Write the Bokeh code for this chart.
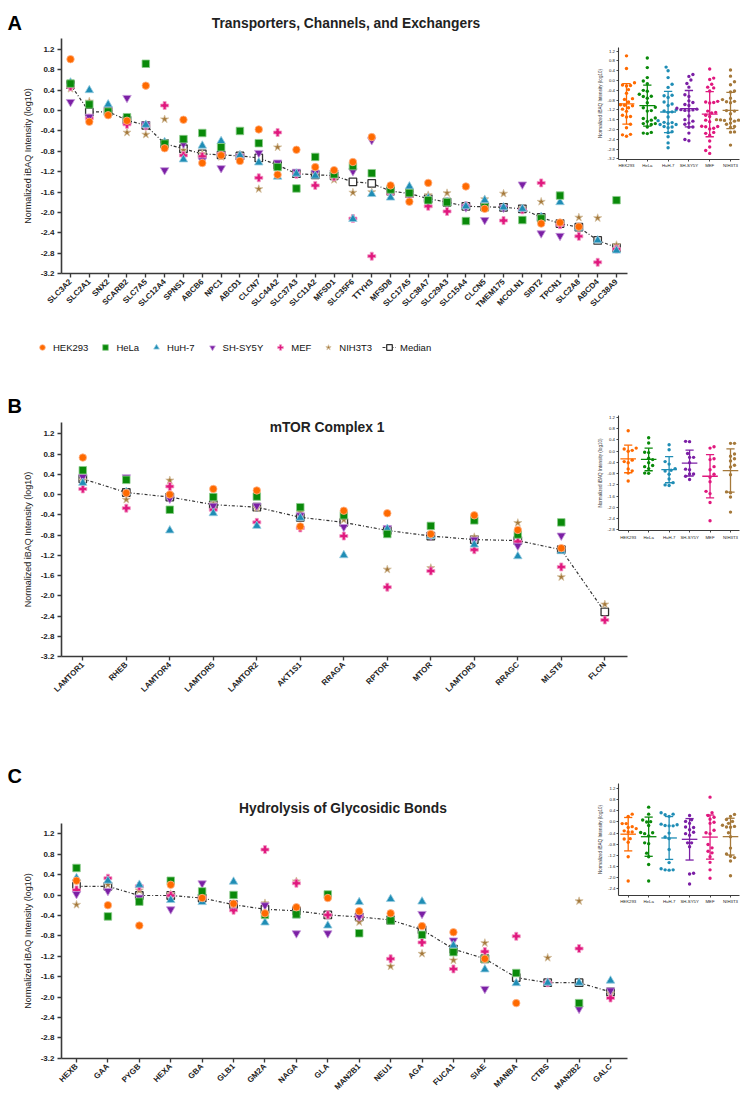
import numpy as np
from bokeh.plotting import figure
from bokeh.models import (Range1d, LinearAxis, FixedTicker, PrintfTickFormatter,
                          Label, Legend, LegendItem, ColumnDataSource)
from bokeh.layouts import column
from bokeh.embed import file_html
from bokeh.resources import INLINE

N = None

cell_lines = ["HEK293", "HeLa", "HuH-7", "SH-SY5Y", "MEF", "NIH3T3"]
main_y_ticks = [1.2, 0.8, 0.4, 0.0, -0.4, -0.8, -1.2, -1.6, -2.0, -2.4, -2.8, -3.2]
inset_ticks_A = [1.2, 0.8, 0.4, 0.0, -0.4, -0.8, -1.2, -1.6, -2.0, -2.4, -2.8, -3.2]
inset_ticks_B = [1.2, 0.8, 0.4, 0.0, -0.4, -0.8, -1.2, -1.6, -2.0, -2.4, -2.8]
inset_ticks_C = [1.2, 0.8, 0.4, 0.0, -0.4, -0.8, -1.2, -1.6, -2.0, -2.4]
y_label = "Normalized iBAQ Intensity (log10)"

# ---------------- Panel A ----------------
title_A = "Transporters, Channels, and Exchangers"
genes_A = ["SLC3A2", "SLC2A1", "SNX2", "SCARB2", "SLC7A5", "SLC12A4", "SPNS1", "ABCB6",
           "NPC1", "ABCD1", "CLCN7", "SLC44A2", "SLC37A3", "SLC11A2", "MFSD1", "SLC35F6",
           "TTYH3", "MFSD8", "SLC17A5", "SLC38A7", "SLC29A3", "SLC15A4", "CLCN5", "TMEM175",
           "MCOLN1", "SIDT2", "TPCN1", "SLC2A8", "ABCD4", "SLC38A9"]
hek_A = [1.01, -0.22, -0.09, -0.20, 0.49, -0.74, -0.18, -1.03, -0.88, -0.99, -0.37, -1.26,
         -0.77, -1.11, -1.17, -1.01, -0.52, -1.47, -1.79, -1.42, N, -1.49, -1.93, N, N,
         -2.22, -2.20, -2.28, N, N]
hela_A = [0.53, 0.12, -0.02, -0.13, 0.92, -0.65, -0.56, -0.44, -0.72, -0.40, -0.64, -1.11,
          -1.53, -0.91, -1.25, -1.09, -1.23, -1.55, -1.62, -1.76, -1.80, -2.17, -1.90, N,
          -2.15, -2.12, -1.67, N, N, -1.76]
huh_A = [0.55, 0.40, 0.12, -0.15, -0.28, -0.62, -0.96, -0.69, -0.60, -0.88, -1.02, -1.30,
         -1.24, -1.28, -1.20, -2.13, -1.64, -1.71, -1.49, -1.72, -1.80, -1.88, -1.76, -1.90,
         -1.93, -2.09, -1.80, -2.30, -2.55, -2.75]
shsy_A = [0.17, -0.12, 0.02, 0.25, -0.27, -1.17, -0.65, -0.98, -1.13, -0.90, -0.83, -1.02,
          -1.20, -1.22, -1.22, -1.19, -0.58, -1.60, -1.66, -1.74, -1.79, -1.90, -2.15, -1.91,
          -1.45, -2.41, -2.46, N, N, N]
mef_A = [0.47, -0.15, 0.04, -0.27, -0.30, 0.10, -0.88, -0.90, -0.85, -0.92, -1.32, -0.43,
         -1.25, -1.47, -1.30, -2.12, -2.86, -1.62, -1.68, -1.88, -1.98, -1.87, -1.89, -2.16,
         -1.95, -1.42, -2.24, -2.47, -2.98, -2.72]
nih_A = [0.43, 0.18, -0.05, -0.43, -0.47, -0.17, -0.78, -0.85, -0.91, -0.87, -1.54, -0.72,
         -1.23, -1.25, -1.36, -1.61, -1.60, -1.57, -1.60, -1.66, -1.62, -1.88, -1.74, -1.63,
         -1.92, -1.79, N, -2.10, -2.11, -2.64]
median_A = [0.51, -0.03, -0.02, -0.19, -0.29, -0.65, -0.75, -0.85, -0.87, -0.89, -0.93, -1.07,
            -1.24, -1.26, -1.28, -1.40, -1.43, -1.58, -1.63, -1.73, -1.80, -1.88, -1.89, -1.90,
            -1.93, -2.10, -2.22, -2.29, -2.55, -2.69]

# ---------------- Panel B ----------------
title_B = "mTOR Complex 1"
genes_B = ["LAMTOR1", "RHEB", "LAMTOR4", "LAMTOR5", "LAMTOR2", "AKT1S1", "RRAGA", "RPTOR",
           "MTOR", "LAMTOR3", "RRAGC", "MLST8", "FLCN"]
hek_B = [0.73, 0.03, 0.00, 0.11, 0.08, -0.63, -0.32, -0.37, -0.78, -0.41, -0.70, -1.06, N]
hela_B = [0.48, 0.29, -0.30, -0.05, -0.04, -0.25, -0.41, -0.78, -0.62, -0.51, -0.79, -0.55, N]
huh_B = [0.23, 0.05, -0.71, -0.37, -0.62, -0.46, -1.20, -0.68, -0.82, -0.99, -1.22, -1.12, N]
shsy_B = [0.35, 0.34, -0.08, -0.22, -0.22, -0.41, -0.64, -0.66, -0.81, -0.89, -1.01, -0.81, N]
mef_B = [0.11, -0.27, 0.16, -0.30, -0.55, -0.66, -0.82, -1.83, -1.51, -1.09, -0.93, -1.43, -2.48]
nih_B = [0.28, -0.10, 0.28, -0.18, -0.27, -0.35, -0.50, -1.48, -1.45, -0.84, -0.56, -1.63, -2.17]
median_B = [0.31, 0.04, -0.05, -0.20, -0.25, -0.45, -0.55, -0.71, -0.82, -0.89, -0.91, -1.09, -2.32]

# ---------------- Panel C ----------------
title_C = "Hydrolysis of Glycosidic Bonds"
genes_C = ["HEXB", "GAA", "PYGB", "HEXA", "GBA", "GLB1", "GM2A", "NAGA", "GLA", "MAN2B1",
           "NEU1", "AGA", "FUCA1", "SIAE", "MANBA", "CTBS", "MAN2B2", "GALC"]
hek_C = [0.28, -0.20, -0.60, 0.20, -0.06, -0.17, -0.36, -0.24, -0.06, -0.32, -0.36, -0.61,
         -0.73, -1.25, -2.12, N, N, N]
hela_C = [0.53, -0.42, -0.13, 0.28, 0.07, 0.00, -0.39, -0.38, 0.01, -0.75, -0.50, -0.78,
          -1.12, -1.25, -1.53, N, -2.12, N]
huh_C = [0.33, 0.28, 0.20, -0.10, -0.14, 0.26, -0.54, -0.40, -0.60, -0.14, -0.08, -0.13,
         -0.99, -1.46, -1.73, -1.72, -1.72, -1.68]
shsy_C = [0.02, 0.08, -0.05, -0.28, 0.23, -0.18, -0.20, -0.75, -0.75, -0.42, -0.48, -0.37,
          -0.89, -1.84, N, N, -2.23, -1.87]
mef_C = [0.10, 0.33, 0.17, -0.01, -0.05, -0.30, 0.89, 0.23, -0.39, -0.42, -1.25, -0.93,
         -1.45, -1.11, -0.81, -1.72, -1.05, -2.02]
nih_C = [-0.19, 0.20, 0.09, 0.02, -0.05, -0.18, -0.16, 0.27, -0.39, -0.53, -1.40, -1.15,
         -1.28, -0.94, N, -1.23, -0.12, -1.93]
median_C = [0.17, 0.17, -0.01, -0.01, -0.06, -0.19, -0.28, -0.31, -0.39, -0.43, -0.49, -0.68,
            -1.06, -1.25, -1.62, -1.72, -1.72, -1.90]

# ---------------- styling ----------------
FONT = "Liberation Sans"
COLORS = ["#FF6A00", "#0A8A0A", "#1F8DB5", "#7B1FA5", "#E0187E", "#A5793B"]
HALO = ["#FFB58A", "#8CCB8C", "#97CBE0", "#C497D8", "#F29AC6", "#D6C2A2"]
MARKERS = ["circle", "square", "triangle", "inverted_triangle", "plus", "star"]
SIZES = [7.5, 7.5, 8.5, 8.5, 8.0, 8.5]
AXIS_C = "#3a3a3a"

FIG_W = 740
AXIS_X = 61          # page x of the main y axis

# page-pixel layout of each panel
LA = dict(top=0, bottom=378, x0=70, xn=616, xend=627, y12=49, ym32=273,
          yaxis_top=38, title_x=345.5, title_base=22.5, letter_base=22,
          ix0=626, ix5=730, iy_top=50.7, iy_bot=158.3, iaxis_left=617.5, iaxis_bottom=158.5,
          iaxis_top=46.7, iaxis_right=739)
LB = dict(top=378, bottom=748, x0=82.3, xn=604.3, xend=626.7, y12=433.3,
          ym32=656, yaxis_top=421.7, title_x=326.5, title_base=427.3, letter_base=405,
          ix0=627.7, ix5=730, iy_top=417, iy_bot=529.3, iaxis_left=617.5, iaxis_bottom=530,
          iaxis_top=415, iaxis_right=739)
LC = dict(top=748, bottom=1100, x0=76, xn=610, xend=626.7, y12=833.3,
          ym32=1057.7, yaxis_top=823.3, title_x=342.5, title_base=808, letter_base=775,
          ix0=627.7, ix5=730, iy_top=788, iy_bot=888.3, iaxis_left=618, iaxis_bottom=894.5,
          iaxis_top=783.3, iaxis_right=739)


def mapper(v1, p1, v2, p2):
    k = (v2 - v1) / (p2 - p1)
    return lambda p: v1 + (p - p1) * k


def swarm(vals, ppx, ppy, d=4.0):
    order = sorted(range(len(vals)), key=lambda i: vals[i])
    cands = [0.0]
    for k in range(1, 40):
        cands += [k * d * 0.5, -k * d * 0.5]
    placed = []
    offs = [0.0] * len(vals)
    for j, i in enumerate(order):
        yy = vals[i] * ppy
        cc = cands if j % 2 == 0 else [-c for c in cands]
        chosen = 0.0
        for o in cc:
            if all((o - a) ** 2 + (yy - b) ** 2 >= d * d for a, b in placed):
                chosen = o
                break
        offs[i] = chosen / ppx
        placed.append((chosen, yy))
    return offs


def style_axis(ax, line_w, tick_out, font_size, bold):
    ax.axis_line_color = AXIS_C
    ax.axis_line_width = line_w
    ax.major_tick_line_color = AXIS_C
    ax.major_tick_line_width = line_w * 0.85
    ax.major_tick_out = tick_out
    ax.major_tick_in = 0
    ax.minor_tick_line_color = None
    ax.major_label_text_font = FONT
    ax.major_label_text_font_size = font_size
    ax.major_label_text_font_style = "bold" if bold else "normal"
    ax.major_label_text_color = "#222222"


def build(genes, series, median, title, letter, L, inset_ticks, with_legend=False):
    n = len(genes)
    X = mapper(0, L["x0"], n - 1, L["xn"])
    Y = mapper(1.2, L["y12"], -3.2, L["ym32"])
    IX = mapper(0, L["ix0"], 5, L["ix5"])
    IY = mapper(inset_ticks[0], L["iy_top"], inset_ticks[-1], L["iy_bot"])
    top, bot = L["top"], L["bottom"]

    p = figure(frame_width=FIG_W, frame_height=bot - top,
               x_range=Range1d(X(0), X(FIG_W)), y_range=Range1d(Y(bot), Y(top)),
               x_axis_location=None, y_axis_location=None,
               min_border=0, output_backend="svg", toolbar_location=None)
    p.extra_x_ranges = {"ix": Range1d(IX(0), IX(FIG_W))}
    p.extra_y_ranges = {"iy": Range1d(IY(bot), IY(top))}
    p.xgrid.visible = False
    p.ygrid.visible = False
    p.outline_line_color = None
    p.background_fill_color = "white"

    # main axes (fixed inside the frame)
    xa = LinearAxis(fixed_location=-3.2, bounds=(X(AXIS_X), X(L["xend"])),
                    ticker=FixedTicker(ticks=list(range(n))),
                    major_label_overrides={i: g for i, g in enumerate(genes)},
                    major_label_orientation=np.pi / 4)
    ya = LinearAxis(fixed_location=X(AXIS_X), bounds=(-3.2, Y(L["yaxis_top"])),
                    ticker=FixedTicker(ticks=main_y_ticks),
                    formatter=PrintfTickFormatter(format="%.1f"), axis_label=y_label)
    style_axis(xa, 1.6, 4, "8px", True)
    style_axis(ya, 1.6, 4, "8px", True)
    xa.major_label_standoff = 3
    ya.major_label_standoff = 3
    ya.axis_label_text_font = FONT
    ya.axis_label_text_font_size = "9px"
    ya.axis_label_text_font_style = "normal"
    ya.axis_label_text_color = "#222222"
    ya.axis_label_standoff = 5
    p.add_layout(xa, "below")
    p.add_layout(ya, "left")

    # median line + squares (drawn beneath)
    idx_all = list(range(n))
    msrc = ColumnDataSource(dict(x=[i for i in idx_all if median[i] is not None],
                                 y=[v for v in median if v is not None]))
    med_line = p.line("x", "y", source=msrc, line_color="#333333", line_width=1.2,
                      line_dash="3 2 1 2")
    med_pts = p.scatter("x", "y", source=msrc, marker="square", size=7.5,
                        fill_color="white", line_color="#333333", line_width=1.3)

    rends = [None] * 6
    for ci in reversed(range(6)):
        vals = series[ci]
        src = ColumnDataSource(dict(x=[i for i in idx_all if vals[i] is not None],
                                    y=[v for v in vals if v is not None]))
        rends[ci] = p.scatter("x", "y", source=src, marker=MARKERS[ci], size=SIZES[ci],
                              fill_color=COLORS[ci], line_color=HALO[ci], line_width=0.8)

    # inset: per-cell-line scatter with mean and SD
    ppx = (L["ix5"] - L["ix0"]) / 5.0
    ppy = (L["iy_bot"] - L["iy_top"]) / (inset_ticks[0] - inset_ticks[-1])
    for ci in range(6):
        vals = [v for v in series[ci] if v is not None]
        offs = swarm(vals, ppx, ppy)
        p.scatter([ci + o for o in offs], vals, x_range_name="ix", y_range_name="iy",
                  marker="circle", size=3.4, fill_color=COLORS[ci], line_color=None)
        m = float(np.mean(vals))
        s = float(np.std(vals, ddof=1))
        p.segment(x0=[ci - 0.38, ci, ci - 0.2, ci - 0.2], x1=[ci + 0.38, ci, ci + 0.2, ci + 0.2],
                  y0=[m, m - s, m - s, m + s], y1=[m, m + s, m - s, m + s],
                  x_range_name="ix", y_range_name="iy", line_color=COLORS[ci], line_width=1.3)

    ibot = IY(L["iaxis_bottom"])
    ileft = IX(L["iaxis_left"])
    iax = LinearAxis(x_range_name="ix", y_range_name="iy", fixed_location=ibot,
                     bounds=(ileft, IX(L["iaxis_right"])), ticker=FixedTicker(ticks=list(range(6))),
                     major_label_overrides={i: c for i, c in enumerate(cell_lines)})
    iay = LinearAxis(x_range_name="ix", y_range_name="iy", fixed_location=ileft,
                     bounds=(ibot, IY(L["iaxis_top"])), ticker=FixedTicker(ticks=inset_ticks),
                     formatter=PrintfTickFormatter(format="%.1f"), axis_label=y_label)
    style_axis(iax, 1.1, 2, "4.3px", False)
    style_axis(iay, 1.1, 2, "4.3px", False)
    iax.major_label_standoff = 2
    iay.major_label_standoff = 1
    iay.axis_label_text_font = FONT
    iay.axis_label_text_font_size = "4.6px"
    iay.axis_label_text_font_style = "normal"
    iay.axis_label_text_color = "#333333"
    iay.axis_label_standoff = 2
    p.add_layout(iax, "below")
    p.add_layout(iay, "left")

    # title and panel letter
    p.add_layout(Label(x=X(L["title_x"]), y=Y(L["title_base"]), text=title, text_font=FONT,
                       text_font_size="13.8px", text_font_style="bold", text_color="#222222",
                       text_align="center", text_baseline="alphabetic"))
    p.add_layout(Label(x=X(7), y=Y(L["letter_base"]), text=letter, text_font=FONT,
                       text_font_size="20px", text_font_style="bold", text_color="#000000",
                       text_align="left", text_baseline="alphabetic"))

    if with_legend:
        items = [LegendItem(label=cell_lines[i], renderers=[rends[i]]) for i in range(6)]
        items.append(LegendItem(label="Median", renderers=[med_line, med_pts]))
        leg = Legend(items=items, orientation="horizontal", location=(35, bot - 354),
                     glyph_width=14, glyph_height=14, label_standoff=4, spacing=10,
                     padding=0, margin=0, border_line_color=None, background_fill_alpha=0,
                     label_text_font=FONT, label_text_font_size="9.5px",
                     label_text_color="#111111")
        p.add_layout(leg, "center")
    return p


pA = build(genes_A, [hek_A, hela_A, huh_A, shsy_A, mef_A, nih_A], median_A, title_A, "A",
           LA, inset_ticks_A, with_legend=True)
pB = build(genes_B, [hek_B, hela_B, huh_B, shsy_B, mef_B, nih_B], median_B, title_B, "B",
           LB, inset_ticks_B)
pC = build(genes_C, [hek_C, hela_C, huh_C, shsy_C, mef_C, nih_C], median_C, title_C, "C",
           LC, inset_ticks_C)

layout = column(pA, pB, pC, spacing=0)
open("out.html", "w").write(file_html(layout, INLINE, "Lysosomal proteins"))
